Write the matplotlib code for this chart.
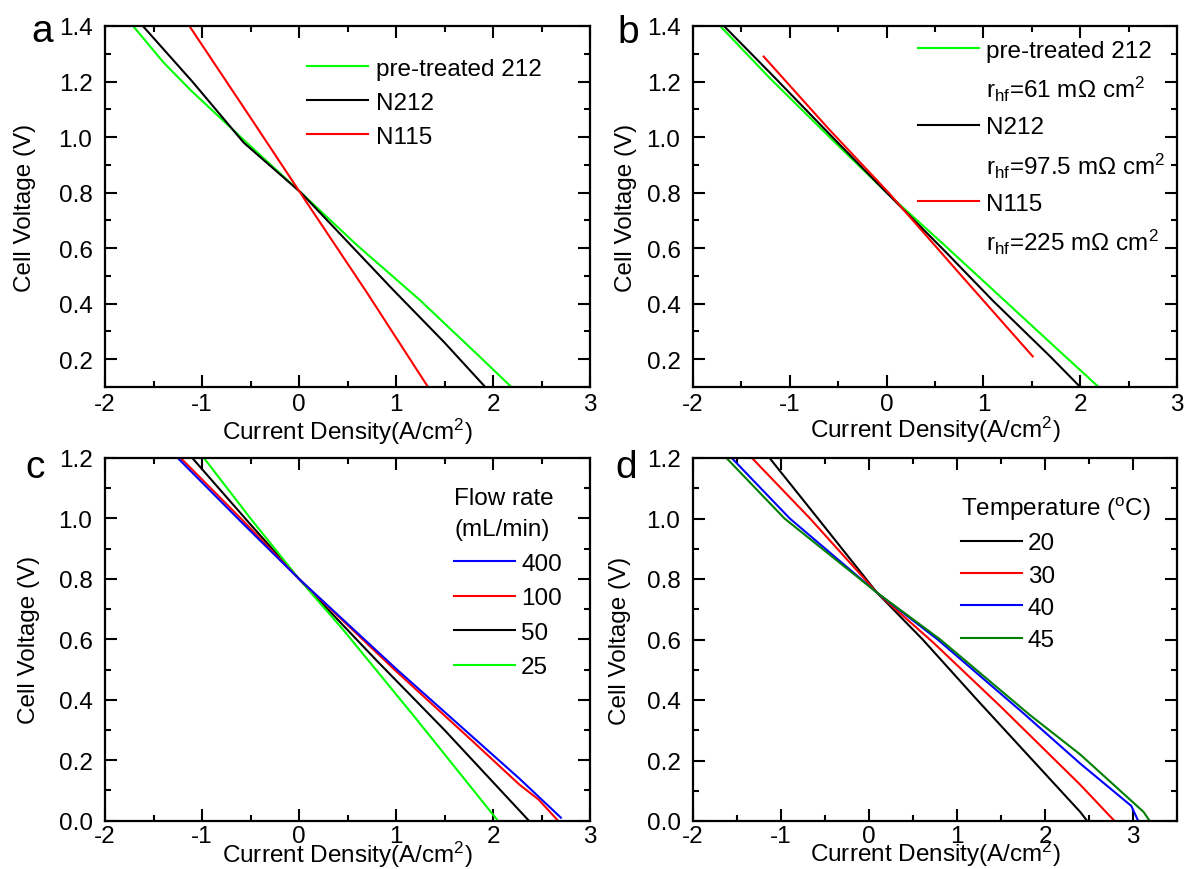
import matplotlib
matplotlib.use("Agg")
import matplotlib.pyplot as plt
from matplotlib.ticker import MultipleLocator, FormatStrFormatter
from matplotlib.lines import Line2D

plt.rcParams['font.family'] = ['Liberation Sans', 'DejaVu Sans']
plt.rcParams['mathtext.fontset'] = 'custom'
plt.rcParams['mathtext.rm'] = 'Liberation Sans'
plt.rcParams['mathtext.it'] = 'Liberation Sans:italic'
plt.rcParams['mathtext.bf'] = 'Liberation Sans:bold'
plt.rcParams['axes.unicode_minus'] = False

# ---------------- data ----------------
# Panel a
A_GREEN_X = [-1.71, -1.40, -1.12, -0.57, 0.02, 0.60, 1.24, 1.80, 2.19]
A_GREEN_Y = [1.40, 1.27, 1.17, 0.99, 0.80, 0.61, 0.415, 0.23, 0.10]
A_BLACK_X = [-1.61, -1.10, -0.57, 0.02, 0.97, 1.50, 1.92]
A_BLACK_Y = [1.40, 1.20, 0.98, 0.80, 0.45, 0.26, 0.10]
A_RED_X = [-1.13, -0.50, 0.05, 0.70, 1.33]
A_RED_Y = [1.40, 1.07, 0.78, 0.44, 0.10]
A_LABELS = ["pre-treated 212", "N212", "N115"]

# Panel b
B_GREEN_X = [-1.72, -1.20, -0.56, 0.00, 0.60, 1.69, 2.19]
B_GREEN_Y = [1.40, 1.21, 0.99, 0.80, 0.61, 0.26, 0.10]
B_BLACK_X = [-1.68, -1.20, -0.56, 0.00, 0.60, 1.10, 1.69, 2.00]
B_BLACK_Y = [1.40, 1.23, 1.00, 0.80, 0.59, 0.41, 0.21, 0.10]
B_RED_X = [-1.27, -0.60, 0.02, 0.80, 1.51]
B_RED_Y = [1.29, 1.03, 0.80, 0.49, 0.21]
B_LABELS = ["pre-treated 212", "N212", "N115"]
B_RHF = ["61", "97.5", "225"]

# Panel c
C_BLUE_X = [-1.25, -0.60, 0.00, 1.01, 2.27, 2.70]
C_BLUE_Y = [1.20, 0.99, 0.80, 0.50, 0.14, 0.01]
C_RED_X = [-1.22, -0.60, 0.00, 1.00, 1.80, 2.27, 2.47, 2.67]
C_RED_Y = [1.20, 1.00, 0.80, 0.495, 0.26, 0.12, 0.07, 0.00]
C_BLACK_X = [-1.10, -0.50, 0.00, 0.80, 1.50, 2.37]
C_BLACK_Y = [1.20, 0.98, 0.80, 0.53, 0.30, 0.00]
C_GREEN_X = [-0.98, -0.50, 0.00, 0.46, 1.20, 2.05]
C_GREEN_Y = [1.20, 1.00, 0.80, 0.63, 0.34, 0.00]
C_LABELS = ["400", "100", "50", "25"]

# Panel d
D_BLACK_X = [-1.13, -0.58, 0.09, 0.61, 1.23, 2.40, 2.48]
D_BLACK_Y = [1.20, 1.00, 0.755, 0.60, 0.40, 0.03, 0.00]
D_RED_X = [-1.33, -0.67, 0.09, 0.73, 1.49, 2.40, 2.79]
D_RED_Y = [1.20, 1.00, 0.755, 0.59, 0.38, 0.12, 0.00]
D_BLUE_X = [-1.56, -0.90, 0.09, 0.78, 1.74, 2.40, 2.98, 3.06]
D_BLUE_Y = [1.20, 1.00, 0.755, 0.60, 0.36, 0.19, 0.05, 0.00]
D_GREEN_X = [-1.62, -0.96, 0.09, 0.81, 1.83, 2.40, 3.12, 3.19]
D_GREEN_Y = [1.20, 1.00, 0.755, 0.60, 0.35, 0.22, 0.03, 0.00]
D_LABELS = ["20", "30", "40", "45"]

LIME, RED, BLUE, BLACK, DKGREEN = '#00FF00', '#FF0000', '#0000FF', '#000000', '#008000'
FS = 17.5
LW = 1.5

fig = plt.figure(figsize=(11.86, 8.70), dpi=100)
W, H = 1186.0, 870.0

def make_ax(l, t, r, b):
    return fig.add_axes([l / W, 1 - b / H, (r - l) / W, (b - t) / H])

axa = make_ax(105, 27, 590, 388)
axb = make_ax(693, 27, 1177, 388)
axc = make_ax(105, 459, 590, 821.7)
axd = make_ax(693, 459, 1177, 822)

def style(ax, xlim, ylim, ylab_x, xlab_y, xpad=4):
    ax.set_xlim(*xlim)
    ax.set_ylim(*ylim)
    ax.xaxis.set_major_locator(MultipleLocator(1))
    ax.xaxis.set_minor_locator(MultipleLocator(0.5))
    ax.yaxis.set_major_locator(MultipleLocator(0.2))
    ax.yaxis.set_minor_locator(MultipleLocator(0.1))
    ax.xaxis.set_major_formatter(FormatStrFormatter('%d'))
    ax.yaxis.set_major_formatter(FormatStrFormatter('%.1f'))
    ax.tick_params(which='both', direction='in', top=True, right=True, width=1.5)
    ax.tick_params(which='major', length=8.5, labelsize=FS)
    ax.tick_params(which='minor', length=4)
    ax.tick_params(axis='x', which='major', pad=xpad)
    ax.tick_params(axis='y', which='major', pad=9)
    for s in ax.spines.values():
        s.set_linewidth(1.6)
    ax.set_xlabel(r'Current Density(A/cm$^{\mathrm{2}}$)', fontsize=FS)
    ax.set_ylabel('Cell Voltage (V)', fontsize=FS)
    ax.xaxis.set_label_coords(0.5, xlab_y)
    ax.yaxis.set_label_coords(ylab_x, 0.5)

style(axa, (-2, 3), (0.1, 1.4), -0.142, -0.080)
style(axb, (-2, 3), (0.1, 1.4), -0.116, -0.075)
style(axc, (-2, 3), (0.0, 1.2), -0.134, -0.049, xpad=3)
style(axd, (-2, 3.5), (0.0, 1.2), -0.128, -0.047, xpad=3)

# Panel a
la = []
la += axa.plot(A_GREEN_X, A_GREEN_Y, color=LIME, lw=LW, label=A_LABELS[0])
la += axa.plot(A_BLACK_X, A_BLACK_Y, color=BLACK, lw=LW, label=A_LABELS[1])
la += axa.plot(A_RED_X, A_RED_Y, color=RED, lw=LW, label=A_LABELS[2])
axa.legend(handles=la, loc='upper left', bbox_to_anchor=(0.4165, 0.912),
           frameon=False, fontsize=FS, borderpad=0, borderaxespad=0,
           handlelength=2.5, handletextpad=0.33, labelspacing=0.49)

# Panel b
hb = []
cols_b = [LIME, BLACK, RED]
xs_b = [B_GREEN_X, B_BLACK_X, B_RED_X]
ys_b = [B_GREEN_Y, B_BLACK_Y, B_RED_Y]
for xs, ys, c in zip(xs_b, ys_b, cols_b):
    axb.plot(xs, ys, color=c, lw=LW)
labels_b = []
for c, lab, r in zip(cols_b, B_LABELS, B_RHF):
    hb.append(Line2D([], [], color=c, lw=LW))
    labels_b.append(lab)
    hb.append(Line2D([], [], color='none', lw=LW))
    labels_b.append(r'r$_{\mathrm{hf}}$=' + r + r' m$\Omega$ cm$^{\mathrm{2}}$')
axb.legend(hb, labels_b, loc='upper left', bbox_to_anchor=(0.465, 0.962),
           frameon=False, fontsize=FS, borderpad=0, borderaxespad=0,
           handlelength=2.5, handletextpad=0.3, labelspacing=0.52)

# Panel c
lc = []
lc += axc.plot(C_BLACK_X, C_BLACK_Y, color=BLACK, lw=LW)
lc += axc.plot(C_GREEN_X, C_GREEN_Y, color=LIME, lw=LW)
lc += axc.plot(C_RED_X, C_RED_Y, color=RED, lw=LW)
lc += axc.plot(C_BLUE_X, C_BLUE_Y, color=BLUE, lw=LW)
handles_c = [lc[3], lc[2], lc[0], lc[1]]
leg_c = axc.legend(handles_c, C_LABELS, loc='upper left', bbox_to_anchor=(0.72, 0.919),
                   frameon=False, fontsize=FS, title='Flow rate\n(mL/min)', title_fontsize=FS,
                   borderpad=0, borderaxespad=0, handlelength=2.5, handletextpad=0.25,
                   labelspacing=0.52, alignment='left')
leg_c.get_title().set_linespacing(1.5)

# Panel d
ld = []
ld += axd.plot(D_BLACK_X, D_BLACK_Y, color=BLACK, lw=LW)
ld += axd.plot(D_RED_X, D_RED_Y, color=RED, lw=LW)
ld += axd.plot(D_BLUE_X, D_BLUE_Y, color=BLUE, lw=LW)
ld += axd.plot(D_GREEN_X, D_GREEN_Y, color=DKGREEN, lw=LW)
axd.legend(ld, D_LABELS, loc='upper left', bbox_to_anchor=(0.554, 0.898),
           frameon=False, fontsize=FS, title=r'Temperature ($^{\mathrm{o}}$C)', title_fontsize=FS,
           borderpad=0, borderaxespad=0, handlelength=2.5, handletextpad=0.25,
           labelspacing=0.42, alignment='left')

# Panel letters
for txt, x, y in [('a', 31, 42), ('b', 617, 43), ('c', 25, 478), ('d', 615, 478)]:
    fig.text(x / W, 1 - y / H, txt, fontsize=28, ha='left', va='baseline')

fig.savefig('out.png', dpi=100)
